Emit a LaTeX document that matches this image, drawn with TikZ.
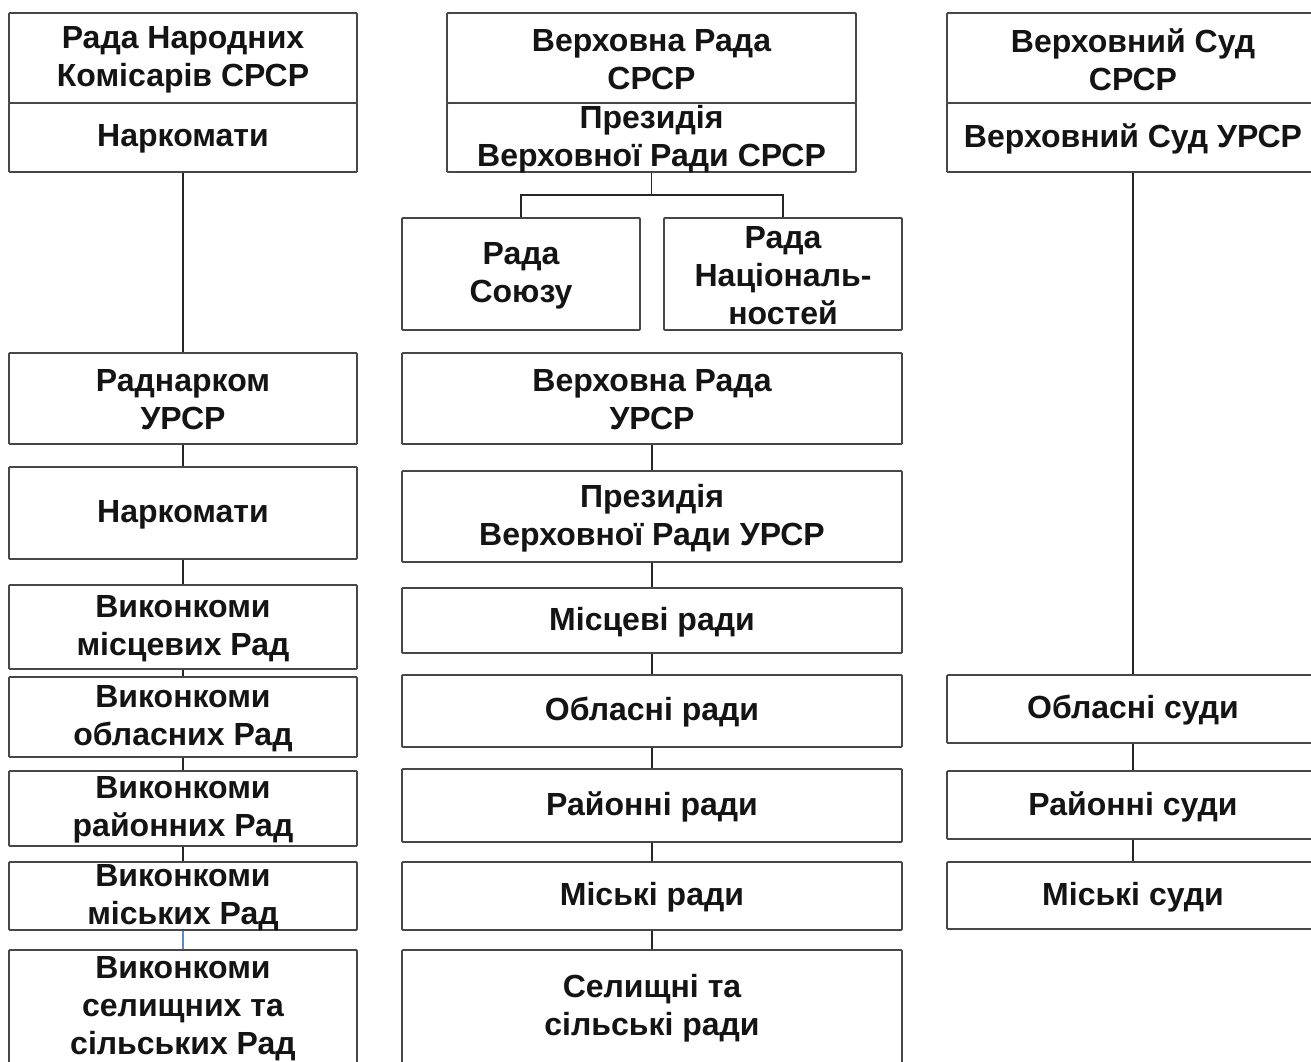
\documentclass[tikz,border=0pt]{standalone}
\usepackage{fontspec}
\setmainfont{Liberation Sans}
\definecolor{linkblue}{RGB}{95,135,205}
\begin{document}
\begin{tikzpicture}[x=1pt,y=-1pt,
  bx/.style={draw=black!72, line width=1.8pt, rounded corners=1pt, fill=white,
    align=center, inner sep=0pt, text=black!92,
    font=\bfseries\fontsize{32}{38}\selectfont},
  conn/.style={draw=black!85, line width=1.5pt},
  connblue/.style={draw=linkblue, line width=1.2pt}]
\newcommand\mybox[6]{\node[bx, minimum width={#4-#2}, minimum height={#5-#3}] (#1) at ({(#2+#4)/2},{(#3+#5)/2}) {};
  \node[bx, draw=none, fill=none] (#1-t) at ({(#2+#4)/2},{(#3+#5)/2+1.5}) {#6};}
\clip (0,0) rectangle (1311,1061);
\fill[white] (0,0) rectangle (1311,1061);
\coordinate (fork) at (651.5,195);
% left column
\mybox{rnk}{9}{13}{357}{103}{Рада Народних\\Комісарів СРСР}
\mybox{nk1}{9}{103}{357}{172}{Наркомати}
\mybox{rnu}{9}{353}{357}{444}{Раднарком\\УРСР}
\mybox{nk2}{9}{467}{357}{559}{Наркомати}
\mybox{vm}{9}{585}{357}{669}{Виконкоми\\місцевих Рад}
\mybox{vo}{9}{677}{357}{757}{Виконкоми\\обласних Рад}
\mybox{vr}{9}{771}{357}{846}{Виконкоми\\районних Рад}
\mybox{vmi}{9}{862}{357}{930}{Виконкоми\\міських Рад}
\mybox{vs}{9}{950}{357}{1064}{Виконкоми\\селищних та\\сільських Рад}
% middle column
\mybox{vrs}{447}{13}{856}{103}{Верховна Рада\\СРСР}
\mybox{pvs}{447}{103}{856}{172}{Президія\\Верховної Ради СРСР}
\mybox{rs}{402}{218}{640}{330}{Рада\\Союзу}
\mybox{rn}{664}{218}{902}{330}{Рада\\Національ-\\ностей}
\mybox{vru}{402}{353}{902}{444}{Верховна Рада\\УРСР}
\mybox{pvu}{402}{471}{902}{562}{Президія\\Верховної Ради УРСР}
\mybox{mr}{402}{588}{902}{653}{Місцеві ради}
\mybox{or}{402}{675}{902}{747}{Обласні ради}
\mybox{rr}{402}{769}{902}{842}{Районні ради}
\mybox{mir}{402}{862}{902}{930}{Міські ради}
\mybox{sr}{402}{950}{902}{1064}{Селищні та\\сільські ради}
% right column
\mybox{vss}{947}{13}{1319}{103}{Верховний Суд\\СРСР}
\mybox{vsu}{947}{103}{1319}{172}{Верховний Суд УРСР}
\mybox{os}{947}{675}{1319}{743}{Обласні суди}
\mybox{rsd}{947}{771}{1319}{839}{Районні суди}
\mybox{ms}{947}{862}{1319}{929}{Міські суди}
% connectors
\draw[conn] (nk1.south) -- (rnu.north);
\draw[conn] (rnu.south) -- (nk2.north);
\draw[conn] (nk2.south) -- (vm.north);
\draw[conn] (vm.south) -- (vo.north);
\draw[conn] (vo.south) -- (vr.north);
\draw[conn] (vr.south) -- (vmi.north);
\draw[connblue] (vmi.south) -- (vs.north);
\draw[conn] (pvs.south) -- (fork) -| (rs.north);
\draw[conn] (fork) -| (rn.north);
\draw[conn] (vru.south) -- (pvu.north);
\draw[conn] (pvu.south) -- (mr.north);
\draw[conn] (mr.south) -- (or.north);
\draw[conn] (or.south) -- (rr.north);
\draw[conn] (rr.south) -- (mir.north);
\draw[conn] (mir.south) -- (sr.north);
\draw[conn] (vsu.south) -- (os.north);
\draw[conn] (os.south) -- (rsd.north);
\draw[conn] (rsd.south) -- (ms.north);
\end{tikzpicture}
\end{document}
